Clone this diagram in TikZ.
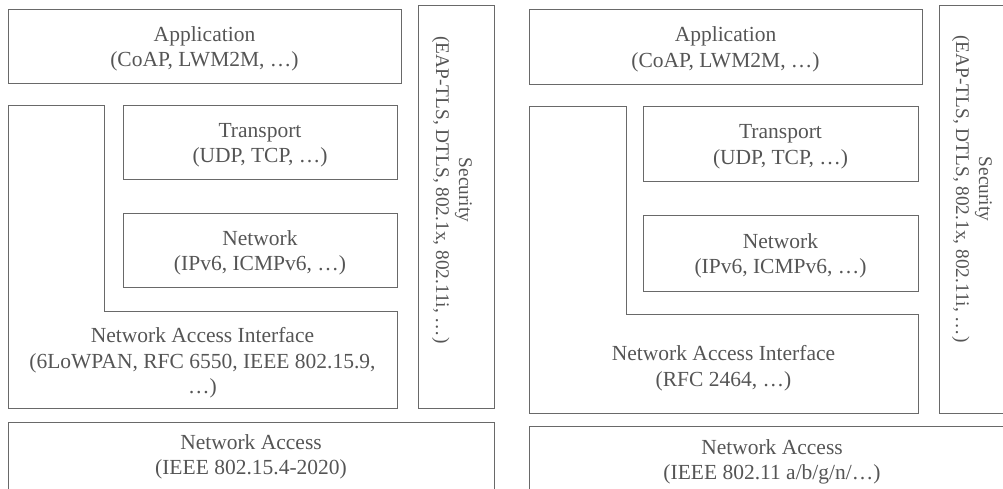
\documentclass[tikz,border=0pt]{standalone}
\usepackage{fontspec}
\setmainfont{Liberation Serif}
\definecolor{linec}{RGB}{105,105,105}
\definecolor{textc}{RGB}{85,85,85}
\begin{document}
\begin{tikzpicture}[x=1pt,y=-1pt,
  box/.style={draw=linec, line width=1pt, inner sep=0pt, outer sep=0pt},
  txt/.style={inner sep=0pt, align=center, text=textc, font=\fontsize{21.5}{25.5}\selectfont},
  sectxt/.style={inner sep=0pt, align=center, text=textc, rotate=-90, font=\fontsize{19.3}{23}\selectfont},
  lshape/.style={draw=linec, line width=1pt}]
\useasboundingbox (0,0) rectangle (1003,488);
\clip (0,0) rectangle (1003,488);
% ---------- left stack ----------
\node[box, minimum width=393pt, minimum height=74pt] (appL) at (204.5,46) {};
\node[txt] (appLt) at (204.5,49) {Application\\(CoAP, LWM2M, …)};
\node[box, minimum width=274pt, minimum height=74pt] (trL) at (260,142) {};
\node[txt] (trLt) at (260,145) {Transport\\(UDP, TCP, …)};
\node[box, minimum width=274pt, minimum height=74pt] (netL) at (260,250) {};
\node[txt] (netLt) at (260,253) {Network\\(IPv6, ICMPv6, …)};
\draw[lshape] (8,105) -- (104,105) -- (104,311) -- (397,311) -- (397,408) -- (8,408) -- cycle;
\node[txt] (naiL) at (202.5,363) {Network Access Interface\\(6LoWPAN, RFC 6550, IEEE 802.15.9,\\…)};
\node[box, minimum width=76pt, minimum height=403pt] (secL) at (456,206.5) {};
\node[sectxt] (secLt) at (452,190) {Security\\(EAP-TLS, DTLS, 802.1x, 802.11i, …)};
\draw[lshape] (8,520) -- (8,422) -- (494,422) -- (494,520);
\node[txt] (naL) at (251,457) {Network Access\\(IEEE 802.15.4-2020)};
% ---------- right stack ----------
\node[box, minimum width=393pt, minimum height=75pt] (appR) at (725.5,46.5) {};
\node[txt] (appRt) at (725.5,49.5) {Application\\(CoAP, LWM2M, …)};
\node[box, minimum width=275pt, minimum height=75pt] (trR) at (780.5,143.5) {};
\node[txt] (trRt) at (780.5,146.5) {Transport\\(UDP, TCP, …)};
\node[box, minimum width=275pt, minimum height=76pt] (netR) at (780.5,253) {};
\node[txt] (netRt) at (780.5,256) {Network\\(IPv6, ICMPv6, …)};
\draw[lshape] (529,106) -- (626,106) -- (626,314) -- (918,314) -- (918,413) -- (529,413) -- cycle;
\node[txt] (naiR) at (723.5,368) {Network Access Interface\\(RFC 2464, …)};
\node[box, minimum width=76pt, minimum height=408pt] (secR) at (977,209) {};
\node[sectxt] (secRt) at (972,189) {Security\\(EAP-TLS, DTLS, 802.1x, 802.11i, …)};
\draw[lshape] (529,520) -- (529,426) -- (1015,426) -- (1015,520);
\node[txt] (naR) at (772,462) {Network Access\\(IEEE 802.11 a/b/g/n/…)};
\end{tikzpicture}
\end{document}
